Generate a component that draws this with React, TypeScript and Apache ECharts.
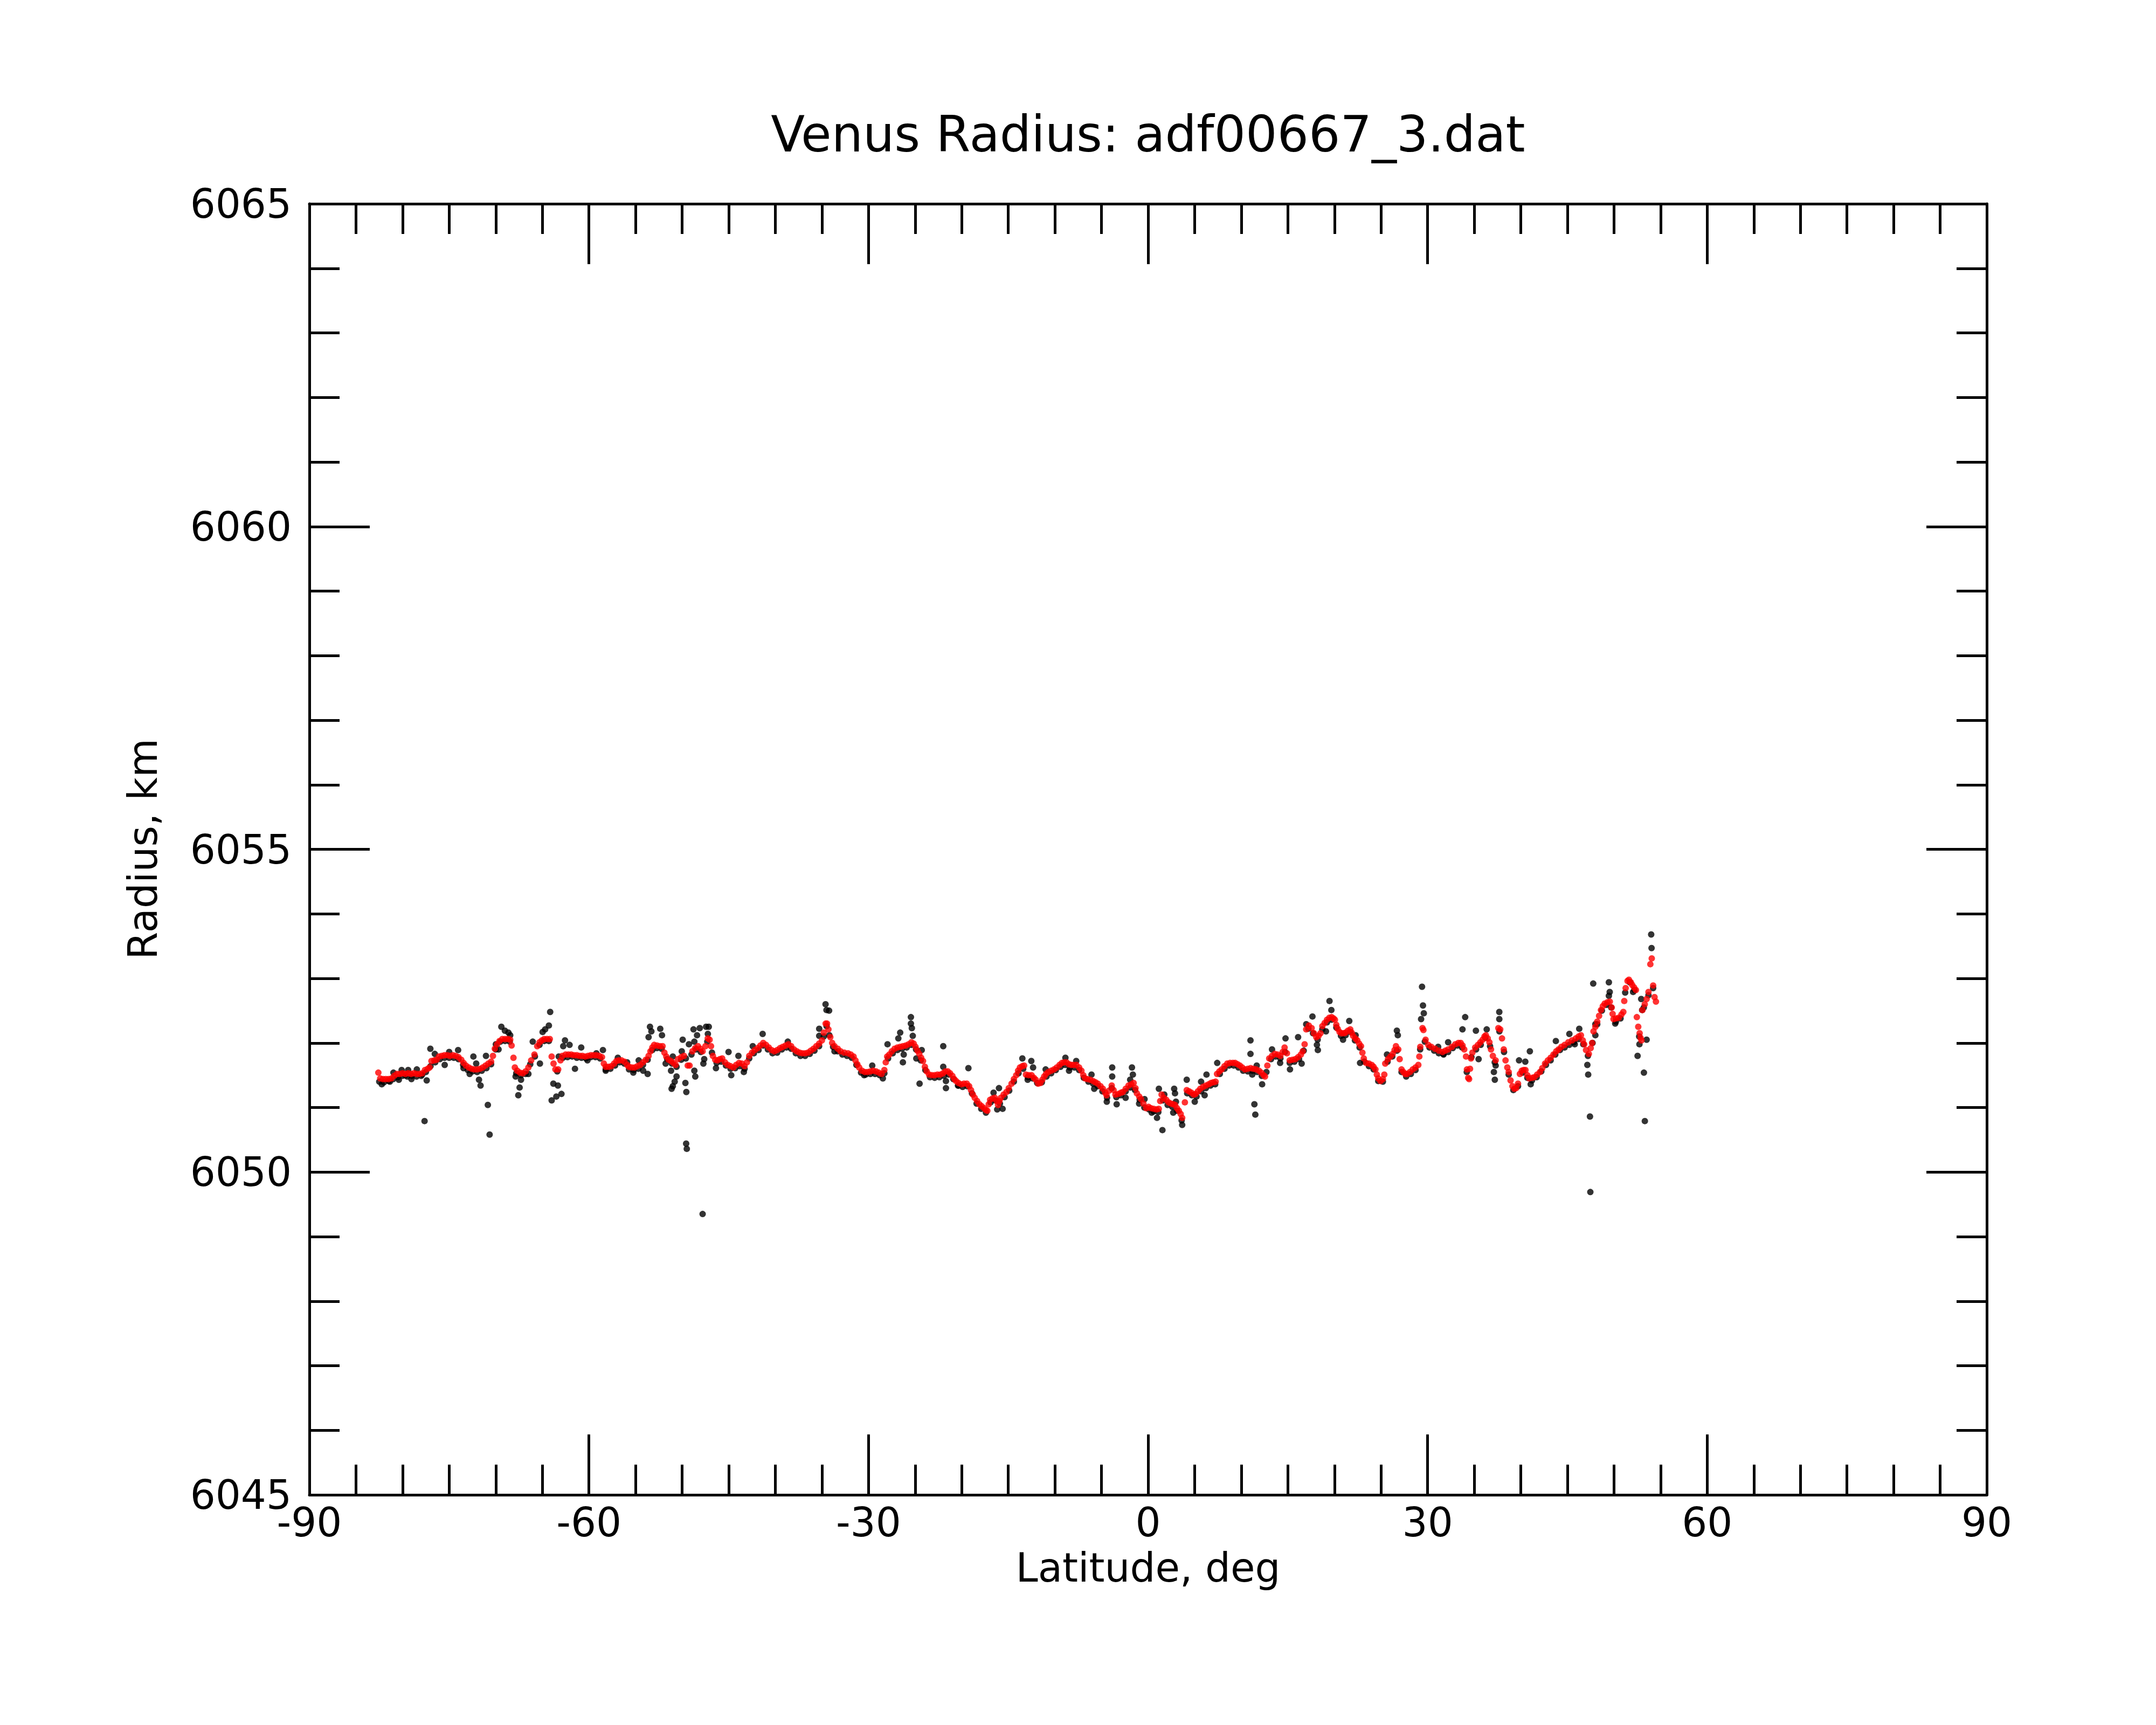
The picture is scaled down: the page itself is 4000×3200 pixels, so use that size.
import React, { useEffect, useRef } from "react";
import * as echarts from "echarts";

const TITLE = "Venus Radius: adf00667_3.dat";
const X_NAME = "Latitude, deg";
const Y_NAME = "Radius, km";
const X_MIN = -90, X_MAX = 90, X_STEP = 30;
const Y_MIN = 6045, Y_MAX = 6065, Y_STEP = 5;

// smoothed radius (red)
const smoothLat = [
-82.6,-82.4,-82.1,-81.8,-81.5,-81.2,-80.9,-80.6,-80.3,-80.0,-79.7,-79.4,-79.1,-78.8,-78.5,-78.2,-77.9,-77.6,-77.3,-77.1,-76.9,-76.6,-76.35,-76.1,-75.8,-75.5,-75.2,-74.9,-74.6,-74.3,-74.0,-73.7,-73.45,-73.2,-72.9,-72.6,-72.3,-72.0,-71.7,-71.4,-71.1,-70.8,-70.5,-70.3,-70.1,-69.85,-69.6,-69.3,-69.0,-68.7,-68.45,-68.3,-68.1,-67.95,-67.7,-67.4,-67.1,-66.8,-66.5,-66.2,-65.85,-65.55,-65.3,-65.05,-64.8,-64.5,-64.2,-64.0,-63.8,-63.6,-63.3,-63.05,-62.85,-62.5,-62.2,-61.9,-61.6,-61.3,-61.0,-60.7,-60.4,-60.1,-59.8,-59.5,-59.2,-58.9,-58.6,-58.4,-58.2,-57.9,-57.6,-57.3,-57.05,-56.8,-56.5,-56.2,-55.9,-55.7,
-55.4,-55.1,-54.8,-54.5,-54.2,-53.9,-53.6,-53.4,-53.2,-53.0,-52.7,-52.4,-52.1,-51.9,-51.7,-51.45,-51.2,-50.95,-50.7,-50.45,-50.1,-49.8,-49.4,-49.2,-48.9,-48.6,-48.3,-48.05,-47.8,-47.5,-47.25,-47.05,-46.9,-46.7,-46.45,-46.2,-45.95,-45.7,-45.4,-45.1,-44.8,-44.5,-44.2,-43.9,-43.6,-43.3,-43.05,-42.8,-42.5,-42.2,-41.9,-41.6,-41.3,-41.0,-40.7,-40.4,-40.1,-39.8,-39.5,-39.2,-38.9,-38.6,-38.3,-38.0,-37.7,-37.4,-37.1,-36.8,-36.5,-36.2,-35.9,-35.6,-35.3,-35.0,-34.8,-34.6,-34.45,-34.3,-34.1,-33.9,-33.65,-33.3,-33.0,-32.6,-32.2,-31.9,-31.6,-31.4,-31.2,-31.0,-30.7,-30.4,-30.1,-29.8,-29.5,-29.2,-28.9,-28.6,-28.3,-28.15,-28.0,-27.77,
-27.5,-27.2,-26.9,-26.6,-26.3,-26.0,-25.7,-25.4,-25.15,-24.95,-24.75,-24.55,-24.35,-24.15,-23.95,-23.75,-23.5,-23.2,-22.9,-22.6,-22.3,-22.0,-21.75,-21.5,-21.25,-21.0,-20.8,-20.6,-20.35,-20.05,-19.75,-19.45,-19.2,-19.0,-18.8,-18.6,-18.35,-18.1,-17.85,-17.6,-17.4,-17.25,-17.1,-16.95,-16.7,-16.45,-16.25,-16.1,-15.95,-15.8,-15.5,-15.2,-14.95,-14.65,-14.4,-14.15,-13.95,-13.75,-13.5,-13.3,-13.1,-12.8,-12.5,-12.25,-12.05,-11.8,-11.55,-11.35,-11.15,-10.95,-10.7,-10.4,-10.1,-9.8,-9.5,-9.25,-9.0,-8.75,-8.5,-8.25,-8.0,-7.7,-7.4,-7.15,-6.95,-6.75,-6.5,-6.2,-5.9,-5.65,-5.4,-5.1,-4.85,-4.6,-4.45,-4.2,-3.9,-3.7,-3.5,-3.2,-2.9,-2.7,-2.4,-2.1,-1.8,-1.55,-1.35,-1.2,-0.95,-0.75,-0.5,-0.2,
0.05,0.3,0.6,0.9,1.15,1.3,1.45,1.7,1.95,2.2,2.45,2.7,2.9,3.1,3.3,3.5,3.66,3.95,4.15,4.4,4.65,4.9,5.1,5.35,5.6,5.9,6.2,6.5,6.75,7.0,7.25,7.4,7.65,7.9,8.2,8.5,8.8,9.1,9.35,9.6,9.85,10.1,10.4,10.7,11.0,11.3,11.6,11.9,12.15,12.4,12.55,12.8,13.0,13.3,13.6,13.9,14.2,14.45,14.65,14.9,15.2,15.5,15.8,16.1,16.4,16.6,16.8,16.97,17.25,17.55,17.8,18.05,18.3,18.5,18.7,18.95,19.2,19.45,19.7,19.9,20.05,20.2,20.35,20.55,20.75,21.0,21.2,21.45,21.7,21.85,22.0,22.25,22.45,22.65,22.85,23.0,23.15,23.4,23.7,24.0,24.2,24.4,24.55,24.7,24.95,25.2,25.35,25.45,25.75,26.0,26.25,26.45,26.6,26.85,27.0,27.2,27.4,27.6,
27.8,28.1,28.4,28.7,29.0,29.11,29.21,29.45,29.55,29.78,30.07,30.4,30.8,31.2,31.6,31.9,32.2,32.6,32.97,33.3,33.55,33.75,33.93,34.12,34.22,34.35,34.45,34.55,34.65,34.8,35.1,35.4,35.66,35.9,36.1,36.25,36.45,36.63,36.8,37.0,37.3,37.59,37.79,37.98,38.17,38.36,38.55,38.7,38.9,39.1,39.3,39.5,39.7,39.9,40.1,40.3,40.5,40.7,40.9,41.2,41.45,41.75,42.05,42.3,42.6,42.9,43.2,43.5,43.8,44.05,44.35,44.7,45.1,45.5,45.9,46.2,46.45,46.65,46.8,47.0,47.3,47.5,47.65,47.8,48.0,48.2,48.4,48.6,48.8,49.0,49.3,49.55,49.75,49.85,49.95,50.2,50.5,50.8,51.0,51.1,51.25,51.45,51.6,51.8,51.95,52.15,52.35,52.45,52.6,52.75,52.85,52.95,53.05,53.3,53.5,53.7,53.9,54.05,54.2,54.35,54.5
];
const smoothRad = [
6051.54,6051.45,6051.44,6051.44,6051.44,6051.45,6051.49,6051.52,6051.52,6051.53,6051.52,6051.53,6051.52,6051.53,6051.52,6051.52,6051.53,6051.58,6051.60,6051.62,6051.72,6051.73,6051.74,6051.79,6051.80,6051.81,6051.81,6051.80,6051.81,6051.80,6051.78,6051.74,6051.69,6051.65,6051.62,6051.60,6051.59,6051.59,6051.60,6051.62,6051.65,6051.68,6051.71,6051.80,6051.91,6051.98,6052.03,6052.06,6052.06,6052.06,6052.05,6051.96,6051.77,6051.62,6051.57,6051.54,6051.53,6051.56,6051.62,6051.73,6051.82,6051.95,6052.01,6052.04,6052.06,6052.06,6052.06,6051.79,6051.68,6051.59,6051.59,6051.73,6051.80,6051.82,6051.82,6051.82,6051.81,6051.81,6051.80,6051.80,6051.79,6051.80,6051.81,6051.81,6051.81,6051.80,6051.78,6051.68,6051.63,6051.63,6051.64,6051.68,6051.72,6051.73,6051.73,6051.71,6051.66,6051.63,
6051.62,6051.62,6051.64,6051.66,6051.70,6051.74,6051.80,6051.87,6051.93,6051.97,6051.96,6051.95,6051.95,6051.85,6051.79,6051.74,6051.72,6051.69,6051.66,6051.75,6051.78,6051.80,6051.65,6051.65,6051.87,6051.92,6051.95,6051.91,6051.87,6051.95,6052.07,6052.05,6051.95,6051.80,6051.74,6051.73,6051.75,6051.76,6051.70,6051.66,6051.64,6051.62,6051.66,6051.69,6051.68,6051.64,6051.70,6051.80,6051.85,6051.89,6051.92,6051.96,6052.00,6051.97,6051.93,6051.89,6051.87,6051.89,6051.92,6051.94,6051.96,6051.98,6051.95,6051.90,6051.87,6051.85,6051.84,6051.84,6051.85,6051.88,6051.91,6051.95,6051.99,6052.04,6052.16,6052.30,6052.30,6052.21,6052.09,6052.00,6051.95,6051.91,6051.87,6051.85,6051.84,6051.82,6051.79,6051.73,6051.67,6051.62,6051.57,6051.55,6051.55,6051.56,6051.57,6051.56,6051.54,6051.52,6051.58,6051.70,6051.79,6051.82,
6051.87,6051.91,6051.93,6051.94,6051.95,6051.96,6051.98,6052.01,6051.99,6051.94,6051.88,6051.83,6051.77,6051.72,6051.63,6051.56,6051.51,6051.50,6051.50,6051.51,6051.51,6051.53,6051.56,6051.56,6051.53,6051.49,6051.44,6051.41,6051.38,6051.36,6051.37,6051.37,6051.33,6051.27,6051.20,6051.15,6051.10,6051.05,6051.02,6050.99,6050.96,6050.95,6051.05,6051.12,6051.14,6051.15,6051.10,6051.04,6051.10,6051.15,6051.20,6051.24,6051.30,6051.37,6051.44,6051.50,6051.57,6051.62,6051.64,6051.65,6051.51,6051.50,6051.50,6051.46,6051.43,6051.37,6051.38,6051.43,6051.48,6051.52,6051.55,6051.57,6051.59,6051.62,6051.66,6051.69,6051.70,6051.70,6051.67,6051.66,6051.66,6051.66,6051.62,6051.57,6051.50,6051.45,6051.44,6051.43,6051.41,6051.39,6051.37,6051.33,6051.29,6051.23,6051.19,6051.26,6051.34,6051.27,6051.20,6051.21,6051.23,6051.24,6051.29,6051.34,6051.36,6051.38,6051.30,6051.22,6051.17,6051.13,6051.06,6050.99,
6051.01,6050.99,6050.98,6050.97,6050.98,6051.10,6051.20,6051.15,6051.12,6051.08,6051.06,6051.05,6051.04,6050.99,6050.95,6050.90,6050.84,6051.08,6051.27,6051.25,6051.23,6051.20,6051.21,6051.25,6051.29,6051.32,6051.34,6051.36,6051.38,6051.39,6051.40,6051.52,6051.56,6051.59,6051.64,6051.68,6051.69,6051.69,6051.69,6051.67,6051.65,6051.62,6051.59,6051.60,6051.61,6051.60,6051.59,6051.57,6051.54,6051.50,6051.48,6051.65,6051.76,6051.80,6051.83,6051.82,6051.80,6051.86,6051.93,6051.84,6051.73,6051.74,6051.75,6051.78,6051.82,6051.87,6051.98,6052.21,6052.27,6052.23,6052.15,6052.09,6052.11,6052.15,6052.26,6052.31,6052.36,6052.39,6052.40,6052.38,6052.36,6052.28,6052.22,6052.17,6052.15,6052.15,6052.16,6052.19,6052.21,6052.16,6052.11,6052.07,6052.04,6051.99,6051.95,6051.85,6051.76,6051.69,6051.68,6051.66,6051.63,6051.59,6051.51,6051.45,6051.41,6051.44,6051.51,6051.68,6051.75,6051.79,6051.83,6051.89,6051.95,6051.90,6051.75,6051.59,6051.55,6051.52,
6051.52,6051.55,6051.59,6051.62,6051.66,6051.79,6051.94,6052.23,6052.20,6052.05,6051.97,6051.94,6051.91,6051.88,6051.86,6051.88,6051.90,6051.94,6051.98,6052.00,6052.00,6051.96,6051.90,6051.79,6051.59,6051.46,6051.44,6051.60,6051.76,6051.85,6051.93,6051.97,6052.01,6052.05,6052.10,6052.12,6052.07,6052.01,6051.90,6051.80,6051.73,6052.23,6052.21,6052.07,6051.90,6051.73,6051.62,6051.55,6051.42,6051.33,6051.29,6051.30,6051.37,6051.52,6051.57,6051.58,6051.58,6051.50,6051.45,6051.46,6051.47,6051.51,6051.55,6051.61,6051.68,6051.73,6051.77,6051.82,6051.87,6051.90,6051.94,6051.97,6052.01,6052.04,6052.07,6052.10,6052.12,6052.04,6051.98,6051.89,6051.83,6051.92,6052.00,6052.18,6052.25,6052.33,6052.42,6052.51,6052.57,6052.61,6052.63,6052.64,6052.55,6052.45,6052.37,6052.38,6052.39,6052.44,6052.48,6052.65,6052.85,6052.96,6052.98,6052.94,6052.90,6052.86,6052.82,6052.40,6052.25,6052.15,6052.08,6052.04,6052.51,6052.60,6052.68,6052.79,6053.22,6053.31,6052.89,6052.71,6052.64
];

// raw radius samples (black)
const rawLat = [
-82.5,-82.0,-81.5,-81.0,-80.5,-80.0,-79.5,-79.0,-78.5,-78.0,-77.5,-77.0,-76.5,-76.0,-75.5,-75.0,-74.5,-74.0,-73.5,-73.0,-72.5,-72.0,-71.5,-71.0,-70.5,-70.0,-69.5,-69.0,-68.5,-67.8,-67.3,-66.8,-66.3,-65.8,-65.3,-64.8,-64.3,-63.4,-62.8,-62.3,-61.8,-61.3,-60.8,-60.3,-59.8,-59.3,-58.8,-58.2,-57.7,-57.2,-56.7,-56.2,-55.7,-55.2,-54.7,-54.2,-53.7,-53.2,-52.7,-52.2,-51.6,-51.1,-50.6,-50.1,-49.6,-49.0,-48.5,-48.0,-47.3,-46.8,-46.3,-45.8,-45.3,-44.8,-44.3,-43.8,-43.3,-42.8,-42.3,-41.8,-41.3,-40.8,-40.3,-39.8,-39.3,-38.8,-38.3,-37.8,-37.3,-36.8,-36.3,-35.8,-35.3,-34.8,-34.5,-34.2,-33.8,-33.3,-32.8,-32.3,-31.8,-31.3,-30.8,-30.3,-29.8,-29.3,-28.8,-28.3,-27.9,-27.4,-26.9,-26.4,-25.9,-25.4,-24.9,-24.4,-23.9,-23.4,-22.9,-22.4,-21.9,-21.4,-20.9,-20.4,-19.9,-19.4,-18.9,-18.4,-17.9,-17.4,-16.9,-16.4,-15.9,-15.4,-14.9,-14.4,-13.9,-13.4,-12.9,-12.4,-11.9,-11.4,-10.9,-10.4,-9.9,-9.4,-8.9,-8.4,-7.9,-7.4,-6.9,-6.4,-5.9,-5.4,-4.9,-4.4,-3.9,-3.4,-2.9,-2.4,-1.9,-1.4,-0.9,-0.4,0.1,0.6,1.1,1.6,2.1,2.6,3.1,3.6,4.2,4.7,5.2,5.7,6.2,6.7,7.2,7.7,8.2,8.7,9.2,9.7,10.2,10.7,11.2,11.7,12.2,12.7,13.2,13.7,14.2,14.7,15.2,15.7,16.2,16.7,17.2,17.7,18.2,18.7,19.2,19.7,20.2,20.7,21.2,21.7,22.2,22.7,23.2,23.7,24.2,24.7,25.2,25.7,26.2,26.7,27.2,27.7,28.2,28.7,29.2,29.7,30.2,30.7,31.2,31.7,32.2,32.7,33.2,33.7,34.2,34.7,35.2,35.7,36.2,36.7,37.2,37.7,38.2,38.7,39.2,39.7,40.2,40.7,41.2,41.7,42.2,42.7,43.2,43.7,44.2,44.7,45.2,45.7,46.2,46.7,47.2,47.7,48.2,48.7,49.2,49.7,50.2,50.7,51.2,51.7,52.2,52.7,53.2,53.7,54.2,
-82.23,-81.36,-80.98,-80.4,-80.1,-79.7,-79.4,-79.05,-78.47,-77.9,-77.64,-77.41,-77.02,-76.54,-75.48,-75.0,-74.04,-73.46,-72.8,-72.4,-72.1,-71.8,-71.63,-71.05,-70.85,-70.66,-69.99,-69.7,-69.4,-69.02,-68.64,-68.45,-67.87,-67.29,-67.44,-67.58,-66.5,-66.03,-65.26,-64.97,-64.7,-64.3,-64.16,-63.82,-63.33,-64.0,-63.5,-62.95,-63.24,-62.57,-62.08,-62.76,-61.5,-60.83,-60.16,-59.2,-58.5,-58.2,-56.9,-55.9,
-55.24,-54.66,-54.18,-53.7,-53.6,-53.45,-53.3,-52.35,-52.16,-51.77,-51.19,-51.0,-50.6,-50.8,-51.0,-51.13,-49.94,-50.04,-49.65,-49.55,-49.57,-49.5,-47.8,-49.27,-48.78,-48.69,-48.4,-48.11,-47.43,-47.14,-47.24,-48.69,-48.59,-47.63,-47.72,-46.37,-45.02,-44.73,-43.96,-43.38,-42.42,-41.36,-38.66,-35.29,-35.29,-34.61,-34.51,-34.23,-33.65,-30.47,-29.6,-28.46,-27.96,
-26.6,-26.8,-25.45,-25.45,-25.35,-25.25,-26.31,-26.22,-24.87,-24.29,-24.52,-21.98,-21.98,-21.69,-21.69,-19.28,-20.34,-16.58,-16.0,-16.19,-15.61,-13.49,-12.53,-12.34,-12.92,-10.99,-8.87,-8.48,-7.71,-6.07,-5.78,-3.85,-3.85,-4.43,-3.37,-1.73,-1.63,-1.92,-2.41,-0.96,-0.38,
0.39,0.96,1.54,1.16,1.74,2.8,2.89,2.99,2.7,3.66,4.15,5.01,5.69,6.27,6.07,7.42,10.99,10.99,11.18,11.41,11.51,11.66,12.24,13.3,14.17,14.75,15.23,16.1,16.48,16.97,17.64,18.22,18.12,19.09,19.47,19.67,20.92,21.59,22.27,22.75,26.7,26.8,25.64,
29.4,29.5,29.59,29.3,31.13,31.71,32.2,34.03,33.74,35.18,35.47,36.34,37.11,37.21,37.3,37.69,37.69,39.81,40.48,40.97,41.06,43.76,45.21,45.79,46.27,47.14,47.23,47.42,47.46,47.77,48.0,48.0,49.45,49.54,49.45,50.13,52.05,52.53,52.73,53.21,53.31,53.5,52.92,53.99,54.03,53.02
];
const rawRad = [
6051.40,6051.39,6051.41,6051.44,6051.47,6051.49,6051.48,6051.49,6051.48,6051.49,6051.55,6051.64,6051.70,6051.75,6051.77,6051.77,6051.77,6051.75,6051.66,6051.58,6051.56,6051.55,6051.57,6051.61,6051.67,6051.90,6052.02,6052.03,6052.02,6051.53,6051.50,6051.52,6051.67,6051.79,6051.97,6052.03,6052.03,6051.56,6051.77,6051.78,6051.79,6051.77,6051.77,6051.76,6051.78,6051.78,6051.76,6051.59,6051.60,6051.65,6051.70,6051.68,6051.59,6051.58,6051.60,6051.66,6051.74,6051.89,6051.92,6051.91,6051.75,6051.68,6051.63,6051.74,6051.76,6051.82,6051.90,6051.86,6052.02,6051.85,6051.69,6051.71,6051.65,6051.60,6051.61,6051.64,6051.60,6051.76,6051.84,6051.89,6051.96,6051.90,6051.84,6051.85,6051.90,6051.93,6051.91,6051.84,6051.80,6051.80,6051.83,6051.88,6051.95,6052.10,6052.26,6052.12,6051.94,6051.87,6051.82,6051.80,6051.77,6051.66,6051.54,6051.51,6051.52,6051.52,6051.50,6051.53,6051.76,6051.84,6051.89,6051.91,6051.93,6051.97,6051.90,6051.73,6051.58,6051.47,6051.46,6051.47,6051.49,6051.51,6051.44,6051.34,6051.32,6051.33,6051.22,6051.06,6050.98,6050.92,6051.08,6051.11,6051.06,6051.16,6051.26,6051.40,6051.53,6051.60,6051.47,6051.45,6051.38,6051.39,6051.48,6051.53,6051.58,6051.63,6051.66,6051.62,6051.62,6051.58,6051.46,6051.40,6051.37,6051.33,6051.25,6051.15,6051.30,6051.16,6051.19,6051.25,6051.31,6051.27,6051.12,6051.00,6050.97,6050.94,6050.93,6051.11,6051.04,6051.01,6050.95,6050.80,6051.22,6051.19,6051.17,6051.25,6051.30,6051.34,6051.36,6051.52,6051.60,6051.65,6051.65,6051.62,6051.57,6051.56,6051.57,6051.55,6051.49,6051.55,6051.75,6051.79,6051.76,6051.86,6051.69,6051.71,6051.75,6051.88,6052.22,6052.15,6052.05,6052.21,6052.32,6052.36,6052.24,6052.11,6052.12,6052.17,6052.04,6051.93,6051.71,6051.64,6051.59,6051.41,6051.40,6051.71,6051.79,6051.88,6051.55,6051.48,6051.52,6051.58,6051.90,6052.02,6051.93,6051.88,6051.84,6051.83,6051.86,6051.92,6051.96,6051.93,6051.55,6051.78,6051.90,6051.97,6052.08,6051.95,6051.70,6052.18,6051.86,6051.51,6051.27,6051.33,6051.54,6051.46,6051.42,6051.47,6051.56,6051.66,6051.73,6051.82,6051.89,6051.93,6051.97,6052.01,6052.06,6051.98,6051.80,6052.00,6052.29,6052.50,6052.59,6052.55,6052.33,6052.38,6052.78,6052.94,6052.82,6052.10,6052.55,6052.74,6052.85,
6051.36,6051.40,6051.54,6051.43,6051.58,6051.50,6051.58,6051.44,6051.59,6051.51,6050.79,6051.42,6051.91,6051.83,6051.66,6051.86,6051.89,6051.61,6051.52,6051.79,6051.68,6051.43,6051.34,6051.80,6051.04,6050.58,6051.98,6051.90,6052.25,6052.19,6052.16,6052.12,6051.48,6051.43,6051.31,6051.19,6051.52,6052.02,6051.68,6052.17,6052.21,6052.27,6052.48,6051.37,6051.34,6051.11,6051.17,6051.21,6051.79,6052.04,6051.97,6051.95,6051.60,6051.93,6051.73,6051.84,6051.89,6051.57,6051.77,6051.70,
6051.54,6051.73,6051.57,6051.52,6052.09,6052.25,6052.18,6052.22,6052.12,6051.68,6051.57,6051.79,6051.48,6051.40,6051.33,6051.29,6052.05,6051.87,6051.38,6051.24,6050.44,6050.36,6049.35,6051.98,6052.21,6052.02,6052.12,6052.23,6052.25,6052.25,6052.14,6051.57,6051.48,6051.75,6051.68,6051.61,6051.86,6051.50,6051.80,6051.55,6051.95,6052.14,6052.02,6052.22,6052.11,6052.60,6052.51,6052.50,6051.87,6051.50,6051.65,6051.45,6051.98,
6052.16,6052.07,6052.40,6052.30,6052.23,6052.11,6051.70,6051.82,6051.76,6051.89,6051.37,6051.95,6051.63,6051.30,6051.41,6051.61,6051.34,6051.23,6051.30,6050.97,6050.98,6051.76,6051.72,6051.62,6051.43,6051.59,6051.77,6051.57,6051.72,6051.51,6051.29,6051.62,6051.48,6051.09,6051.05,6051.62,6051.51,6051.43,6051.15,6051.06,6051.13,
6050.92,6050.84,6050.65,6051.29,6051.20,6051.29,6051.22,6051.09,6050.92,6050.73,6051.43,6051.09,6051.40,6051.51,6051.19,6051.69,6052.04,6051.83,6051.51,6051.05,6050.89,6051.65,6051.36,6051.90,6051.69,6052.07,6051.59,6052.09,6051.68,6052.29,6052.41,6051.89,6051.97,6052.18,6052.65,6052.51,6052.05,6052.34,6052.12,6051.69,6052.19,6052.12,6051.82,
6052.87,6052.58,6052.46,6052.37,6051.94,6051.82,6052.01,6052.40,6052.21,6052.19,6051.75,6052.21,6051.55,6051.43,6051.65,6052.48,6052.37,6051.73,6051.71,6051.87,6051.36,6052.03,6052.14,6051.98,6052.22,6051.66,6051.51,6050.86,6049.69,6052.92,6052.12,6052.29,6052.94,6052.79,6052.73,6052.30,6052.79,6051.80,6051.98,6051.54,6050.79,6052.05,6052.68,6053.68,6053.47,6052.51
];

const FONT = "DejaVu Sans";
const GRID = { left: 574, top: 378, width: 3112, height: 2395 };

function pairs(xs: number[], ys: number[]) {
  const n = Math.min(xs.length, ys.length);
  const out: number[][] = [];
  for (let i = 0; i < n; i++) out.push([xs[i], ys[i]]);
  return out;
}

export default function App() {
  const ref = useRef<HTMLDivElement>(null);
  useEffect(() => {
    document.body.style.margin = "0";
    const chart = echarts.init(ref.current!, null, { renderer: "svg" });
    const line = { show: true, onZero: false, lineStyle: { color: "#000", width: 5 } };
    const tick = { show: true, inside: true, length: 112, lineStyle: { color: "#000", width: 5 } };
    const minor = (n: number) => ({ show: true, splitNumber: n, length: 56, lineStyle: { color: "#000", width: 5 } });
    const plain = (v: number) => String(Math.round(v));
    chart.setOption({
      animation: false,
      backgroundColor: "#fff",
      textStyle: { fontFamily: FONT },
      grid: { ...GRID, containLabel: false },
      xAxis: [
        {
          type: "value", position: "bottom", min: X_MIN, max: X_MAX, interval: X_STEP,
          axisLine: line, axisTick: tick, minorTick: minor(6), splitLine: { show: false }, minorSplitLine: { show: false },
          axisLabel: { show: true, fontSize: 74, color: "#000", fontFamily: FONT, margin: 14, formatter: plain },
        },
        {
          type: "value", position: "top", min: X_MIN, max: X_MAX, interval: X_STEP,
          axisLine: line, axisTick: tick, minorTick: minor(6), splitLine: { show: false }, minorSplitLine: { show: false },
          axisLabel: { show: false },
        },
      ],
      yAxis: [
        {
          type: "value", position: "left", min: Y_MIN, max: Y_MAX, interval: Y_STEP,
          axisLine: line, axisTick: tick, minorTick: minor(5), splitLine: { show: false }, minorSplitLine: { show: false },
          axisLabel: { show: true, fontSize: 74, color: "#000", fontFamily: FONT, margin: 33, formatter: plain },
        },
        {
          type: "value", position: "right", min: Y_MIN, max: Y_MAX, interval: Y_STEP,
          axisLine: line, axisTick: tick, minorTick: minor(5), splitLine: { show: false }, minorSplitLine: { show: false },
          axisLabel: { show: false },
        },
      ],
      graphic: [
        { type: "text", x: 2130, y: 249, style: { text: TITLE, font: `92px '${FONT}'`, fill: "#000", textAlign: "center", textVerticalAlign: "middle" } },
        { type: "text", x: 2130, y: 2908, style: { text: X_NAME, font: `74px '${FONT}'`, fill: "#000", textAlign: "center", textVerticalAlign: "middle" } },
        { type: "text", x: 265, y: 1575, rotation: Math.PI / 2, style: { text: Y_NAME, font: `74px '${FONT}'`, fill: "#000", textAlign: "center", textVerticalAlign: "middle" } },
      ],
      series: [
        {
          name: "raw", type: "scatter", xAxisIndex: 0, yAxisIndex: 0, symbol: "circle", symbolSize: 12,
          itemStyle: { color: "#000" }, data: pairs(rawLat, rawRad), z: 2,
        },
        {
          name: "smooth", type: "scatter", xAxisIndex: 0, yAxisIndex: 0, symbol: "circle", symbolSize: 12,
          itemStyle: { color: "#ff0000" }, data: pairs(smoothLat, smoothRad), z: 3,
        },
      ],
    });
    return () => chart.dispose();
  }, []);
  return <div ref={ref} style={{ width: 4000, height: 3200 }} />;
}
